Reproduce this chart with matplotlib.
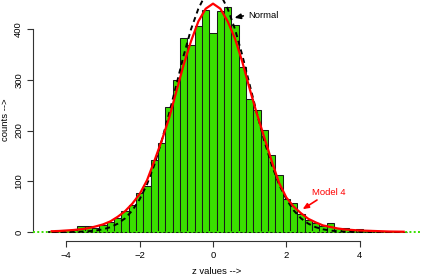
import matplotlib
matplotlib.use("Agg")
import matplotlib.pyplot as plt
import numpy as np

plt.rcParams['font.family'] = ['Liberation Sans', 'DejaVu Sans']

# ---- data ----
bin_centers = [-4.4, -4.2, -4.0, -3.8, -3.6, -3.4, -3.2, -3.0, -2.8, -2.6,
               -2.4, -2.2, -2.0, -1.8, -1.6, -1.4, -1.2, -1.0, -0.8, -0.6,
               -0.4, -0.2, 0.0, 0.2, 0.4, 0.6, 0.8, 1.0, 1.2, 1.4,
               1.6, 1.8, 2.0, 2.2, 2.4, 2.6, 2.8, 3.0, 3.2, 3.4,
               3.6, 3.8, 4.0, 4.2, 4.4, 4.6, 4.8, 5.0, 5.2]
counts = [2, 3, 3, 4, 11, 11, 8, 14, 19, 27,
          42, 53, 76, 91, 142, 175, 246, 300, 383, 368,
          406, 437, 392, 435, 444, 408, 326, 262, 240, 201,
          151, 112, 66, 57, 36, 23, 18, 11, 17, 7,
          8, 4, 5, 4, 2, 1, 1, 1, 1]
normal_fit = [0, 0, 0.2, 0.3, 0.7, 1.5, 2.9, 5.3, 9.5, 16.4,
              26.9, 42.5, 64.7, 94, 132.5, 179.5, 233, 290, 348, 399.5,
              440, 468.5, 478, 468.5, 440, 399.5, 348, 290, 233, 179.5,
              132.5, 94, 64.7, 42.5, 26.9, 16.4, 9.5, 5.3, 2.9, 1.5,
              0.7, 0.3, 0.2, 0.1, 0, 0, 0, 0, 0]
model4_fit = [1.5, 2, 3, 4, 5.5, 7.5, 11, 15, 21, 30,
              41, 56, 75, 102, 140, 180, 224, 277, 330, 376,
              415, 440, 450, 440, 415, 381, 335, 282, 232, 186,
              140, 97, 68, 50, 37, 26, 19, 13, 10, 7,
              5, 4, 3, 2.5, 2, 1.5, 1, 0.8, 0.6]
x_ticks = [-4, -2, 0, 2, 4]
y_ticks = [0, 100, 200, 300, 400]
bin_width = 0.2

W, H = 422, 275
fig = plt.figure(figsize=(W / 100, H / 100), dpi=100)
ax = fig.add_axes([33 / W, (H - 241) / H, (W - 33) / W, 243 / H])
ax.set_xlim(-4.91, 5.70)
ax.set_ylim(-17.7, 461.1)

green = '#3ADF00'
ax.bar(bin_centers, counts, width=bin_width, color=green,
       edgecolor='#1a1a1a', linewidth=0.75, zorder=2)
ax.axhline(0, color=green, linestyle=(0, (1.0, 1.2)), lw=1.4, zorder=3)

ax.plot(bin_centers, normal_fit, color='black', lw=1.4,
        linestyle=(0, (2.6, 2.0)), zorder=4)
ax.plot(bin_centers, model4_fit, color='#FF0000', lw=1.6, zorder=5)

# annotations
ax.annotate('', xy=(0.51, 421), xytext=(0.90, 427),
            arrowprops=dict(arrowstyle='-|>,head_length=0.35,head_width=0.15',
                            color='black', lw=1.2), zorder=6)
ax.text(0.97, 427, 'Normal', fontsize=6.8, color='black',
        ha='left', va='center', zorder=6)
ax.annotate('', xy=(2.38, 42), xytext=(2.90, 66),
            arrowprops=dict(arrowstyle='-|>,head_length=0.35,head_width=0.15',
                            color='#FF0000', lw=1.2), zorder=6)
ax.text(3.15, 78, 'Model 4', fontsize=6.8, color='#FF0000',
        ha='center', va='center', zorder=6)

# axes styling (R-like)
for s in ['top', 'right']:
    ax.spines[s].set_visible(False)
ax.spines['left'].set_bounds(0, 400)
ax.spines['bottom'].set_bounds(-4, 4)
for s in ['left', 'bottom']:
    ax.spines[s].set_linewidth(0.8)
    ax.spines[s].set_color('#333333')
ax.set_xticks(x_ticks)
ax.set_xticklabels(['\u22124', '\u22122', '0', '2', '4'])
ax.set_yticks(y_ticks)
ax.set_yticklabels([str(v) for v in y_ticks], rotation=90, va='center')
ax.tick_params(axis='both', length=4, width=0.8, color='#333333',
               labelsize=6.8, pad=3)
ax.patch.set_alpha(0)

fig.text(217 / W, 1 - 271 / H, 'z values -->', fontsize=6.8,
         ha='center', va='center')
fig.text(6 / W, 1 - 120 / H, 'counts -->', fontsize=6.8, rotation=90,
         ha='center', va='center')

fig.savefig('out.png', dpi=100)
